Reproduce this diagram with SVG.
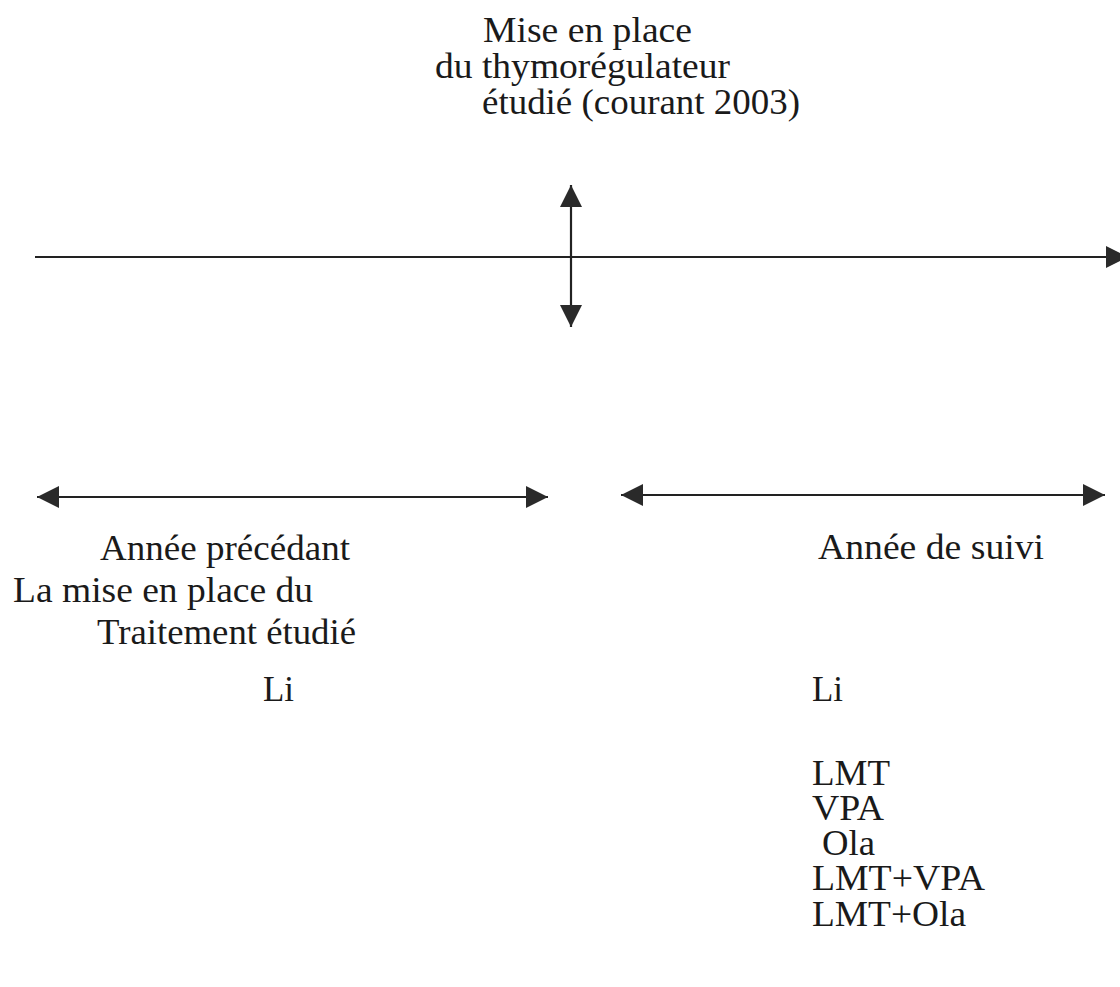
<svg xmlns="http://www.w3.org/2000/svg" width="1120" height="987" viewBox="0 0 1120 987">
  <defs>
    <style>
      text { font-family: "Liberation Serif", "Times New Roman", "DejaVu Serif", serif; font-size: 35px; fill: #1a1a1a; }
      .ln { stroke: #222; stroke-width: 2.2; fill: none; }
    </style>
    <marker id="ah" markerUnits="userSpaceOnUse" markerWidth="22" markerHeight="22" refX="22" refY="11" orient="auto-start-reverse" viewBox="0 0 22 22">
      <path d="M0,0 L22,11 L0,22 Z" fill="#2a2a2a"/>
    </marker>
  </defs>
  <rect width="1120" height="987" fill="#ffffff"/>

  <g id="connectors">
    <line class="ln" x1="35" y1="257" x2="1128" y2="257" marker-end="url(#ah)"/>
    <line class="ln" x1="571" y1="185" x2="571" y2="327" marker-start="url(#ah)" marker-end="url(#ah)"/>
    <line class="ln" x1="37" y1="497" x2="548" y2="497" marker-start="url(#ah)" marker-end="url(#ah)"/>
    <line class="ln" x1="621" y1="495" x2="1105" y2="495" marker-start="url(#ah)" marker-end="url(#ah)"/>
  </g>

  <g id="label-mise-en-place">
    <text x="483" y="42" textLength="209" lengthAdjust="spacingAndGlyphs">Mise en place</text>
    <text x="435" y="78" textLength="295" lengthAdjust="spacingAndGlyphs">du thymorégulateur</text>
    <text x="482" y="114" textLength="318" lengthAdjust="spacingAndGlyphs">étudié (courant 2003)</text>
  </g>

  <g id="label-annee-precedant">
    <text x="100" y="560" textLength="250" lengthAdjust="spacingAndGlyphs">Année précédant</text>
    <text x="13" y="602" textLength="300" lengthAdjust="spacingAndGlyphs">La mise en place du</text>
    <text x="97" y="644" textLength="259" lengthAdjust="spacingAndGlyphs">Traitement étudié</text>
  </g>

  <g id="label-li-left">
    <text x="263" y="701" textLength="31" lengthAdjust="spacingAndGlyphs">Li</text>
  </g>

  <g id="label-annee-suivi">
    <text x="818" y="559" textLength="226" lengthAdjust="spacingAndGlyphs">Année de suivi</text>
  </g>

  <g id="label-li-right">
    <text x="812" y="701" textLength="31" lengthAdjust="spacingAndGlyphs">Li</text>
  </g>

  <g id="list-treatments">
    <text x="812" y="785" textLength="78" lengthAdjust="spacingAndGlyphs">LMT</text>
    <text x="812" y="820" textLength="72" lengthAdjust="spacingAndGlyphs">VPA</text>
    <text x="822" y="855" textLength="53" lengthAdjust="spacingAndGlyphs">Ola</text>
    <text x="812" y="890" textLength="173" lengthAdjust="spacingAndGlyphs">LMT+VPA</text>
    <text x="812" y="926" textLength="154" lengthAdjust="spacingAndGlyphs">LMT+Ola</text>
  </g>
</svg>
